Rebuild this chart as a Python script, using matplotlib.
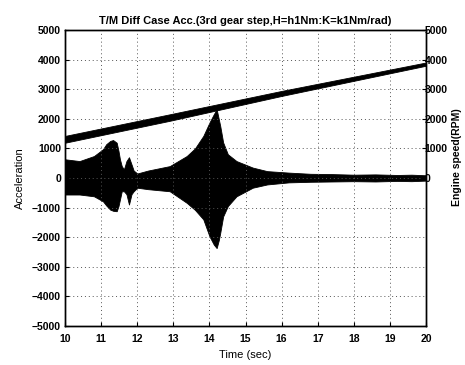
import matplotlib
matplotlib.use("Agg")
import matplotlib.pyplot as plt
import numpy as np

matplotlib.rcParams.update({
    "font.family": ["Liberation Sans", "DejaVu Sans"],
    "font.size": 8,
    "font.weight": "bold",
})

# acceleration envelope (upper / lower bound of the oscillation)
t_acc = [10.0, 10.4, 10.8, 11.05, 11.14, 11.25, 11.33, 11.43, 11.48, 11.52,
         11.57, 11.63, 11.7, 11.77, 11.84, 11.9, 12.0, 12.3, 12.9, 13.37,
         13.6, 13.83, 14.0, 14.12, 14.2, 14.26, 14.3, 14.38, 14.51, 14.75,
         15.2, 15.6, 16.2, 16.8, 17.4, 18.0, 18.6, 19.2, 19.6, 20.0]
acc_upper = [630, 570, 740, 970, 1140, 1250, 1280, 1190, 910, 630,
             400, 290, 570, 700, 460, 250, 150, 250, 400, 740,
             1000, 1420, 1870, 2150, 2320, 1980, 1750, 1200, 800, 570,
             350, 230, 180, 140, 130, 110, 120, 100, 110, 90]
acc_lower = [-560, -560, -620, -790, -930, -1070, -1110, -1125, -950, -730,
             -450, -450, -550, -900, -550, -450, -330, -380, -450, -840,
             -1080, -1400, -1970, -2250, -2370, -2100, -1850, -1300, -950, -620,
             -330, -220, -150, -130, -120, -110, -120, -100, -110, -90]

# engine speed trace (band edges)
t_rpm = [10.0, 12.9, 16.0, 20.0]
rpm_upper = [1420, 2150, 2940, 3900]
rpm_lower = [1190, 1930, 2770, 3790]

xticks = list(range(10, 21))
yticks_left = list(range(-5000, 5001, 1000))
yticks_right = list(range(0, 5001, 1000))

fig = plt.figure(figsize=(4.65, 3.65), dpi=100)
ax = fig.add_axes([0.140, 0.107, 0.776, 0.811])

ax.fill_between(t_acc, acc_lower, acc_upper, color="black", linewidth=0.6,
                edgecolor="black")
ax.set_xlim(10, 20)
ax.set_ylim(-5000, 5000)
ax.set_xticks(xticks)
ax.set_yticks(yticks_left)
ax.grid(True, linestyle=(0, (1, 3)), color="#555555", linewidth=0.7)
ax.tick_params(direction="in", length=3, width=0.8, colors="black", pad=3,
               labelsize=7.5)
ax.tick_params(axis="x", pad=6)
ax.set_xlabel("Time (sec)", labelpad=4, fontsize=8)
ax.set_ylabel("Acceleration", labelpad=5, fontsize=8)
ax.set_title("T/M Diff Case Acc.(3rd gear step,H=h1Nm:K=k1Nm/rad)",
             fontsize=8, pad=4, fontweight="bold")
for sp in ax.spines.values():
    sp.set_linewidth(1.0)

ax2 = ax.twinx()
ax2.fill_between(t_rpm, rpm_lower, rpm_upper, color="black", linewidth=0.6,
                 edgecolor="black")
ax2.set_ylim(-5000, 5000)
ax2.set_yticks(yticks_right)
ax2.tick_params(direction="in", length=3, width=0.8, pad=-1, labelsize=7.5)
for sp in ax2.spines.values():
    sp.set_linewidth(1.0)

fig.text(0.972, 0.57, "Engine speed(RPM)", rotation=90, ha="left",
         va="center", fontsize=7.5)

fig.savefig("out.png", dpi=100)
